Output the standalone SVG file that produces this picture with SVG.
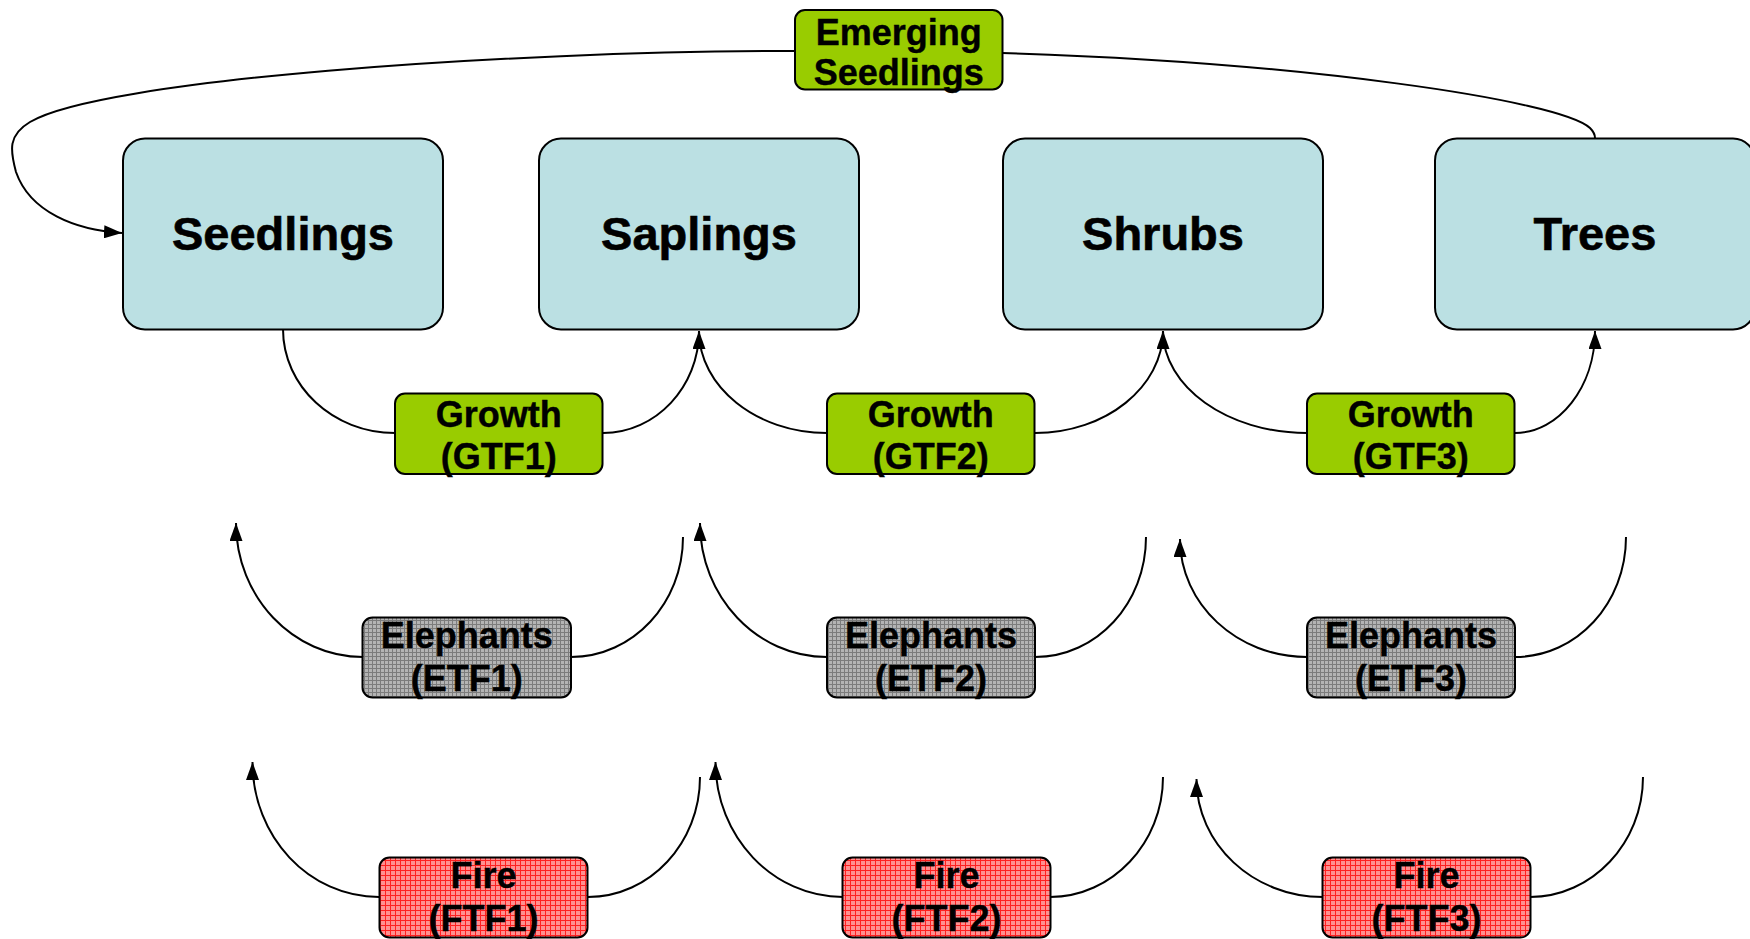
<svg xmlns="http://www.w3.org/2000/svg" width="1750" height="939" viewBox="0 0 1750 939">
<style>
.big{fill:#bbe0e3;stroke:#000;stroke-width:2}
.grn{fill:#99cc00;stroke:#000;stroke-width:2}
.ele{fill:url(#grayGrid);stroke:#000;stroke-width:2}
.fire{fill:url(#redGrid);stroke:#000;stroke-width:2}
.tb{font-family:"Liberation Sans",Arial,sans-serif;font-weight:bold;font-size:47px;text-anchor:middle;fill:#000;stroke:#000;stroke-width:0.6}
.ts{font-family:"Liberation Sans",Arial,sans-serif;font-weight:bold;font-size:36px;text-anchor:middle;fill:#000;stroke:#000;stroke-width:0.4}
.c{fill:none;stroke:#000;stroke-width:2}
.a{marker-end:url(#arr)}
</style>
<defs>
<marker id="arr" viewBox="0 0 18 13" refX="18" refY="6.5" markerWidth="18" markerHeight="13" markerUnits="userSpaceOnUse" orient="auto">
<path d="M0,0 L18,6.5 L0,13 Z" fill="#000"/>
</marker>
<pattern id="grayGrid" width="4" height="4" patternUnits="userSpaceOnUse">
<rect width="4" height="4" fill="#b4b4b4"/>
<path d="M0,0.5 H4 M0.5,0 V4" stroke="#7c7c7c" stroke-width="1"/>
</pattern>
<pattern id="redGrid" width="5" height="5" patternUnits="userSpaceOnUse">
<rect width="5" height="5" fill="#ff9090"/>
<path d="M0,0.5 H5 M0.5,0 V5" stroke="#ff2020" stroke-width="1"/>
</pattern>
</defs>

<g id="connectors">
<path class="c a" d="M795,51 C500,51 100,80 30,122 C8,135 10,150 16,172 C30,212 75,230 122,233"/>
<path class="c" d="M1002,53 C1300,62 1560,100 1590,128 C1594,132 1595,135 1595,138"/>

<path class="c" d="M283,329 C283,386.4 333.2,433 395,433"/>
<path class="c a" d="M603,433 C656,433 699,386.6 699,331"/>
<path class="c" d="M699,331 C699,386.4 756,433 827,433"/>
<path class="c a" d="M1035,433 C1106,433 1163,386.6 1163,331"/>
<path class="c" d="M1163,331 C1163,386.4 1227,433 1307,433"/>
<path class="c a" d="M1515,433 C1559,433 1595,386.6 1595,331"/>

<path class="c a" d="M363,657 C293,657 236,597 236,523"/>
<path class="c" d="M571,657 C633,657 683,603 683,537"/>
<path class="c a" d="M827,657 C757,657 700,597 700,523"/>
<path class="c" d="M1035,657 C1097,657 1146,603 1146,537"/>
<path class="c a" d="M1307,657 C1237,657 1180,604 1180,539"/>
<path class="c" d="M1515,657 C1577,657 1626,603 1626,537"/>

<path class="c a" d="M379,897 C309,897 252.5,837 252.5,762"/>
<path class="c" d="M588,897 C650,897 700,843 700,777"/>
<path class="c a" d="M843,897 C773,897 715.5,837 715.5,762"/>
<path class="c" d="M1050,897 C1112,897 1163,843 1163,777"/>
<path class="c a" d="M1323,897 C1253,897 1196.5,844 1196.5,779"/>
<path class="c" d="M1530,897 C1592,897 1643,843 1643,777"/>
</g>

<g id="seedlings"><rect class="big" x="123" y="138.5" width="320" height="191" rx="22"/><text class="tb" x="283" y="250">Seedlings</text></g>
<g id="saplings"><rect class="big" x="539" y="138.5" width="320" height="191" rx="22"/><text class="tb" x="699" y="250">Saplings</text></g>
<g id="shrubs"><rect class="big" x="1003" y="138.5" width="320" height="191" rx="22"/><text class="tb" x="1163" y="250">Shrubs</text></g>
<g id="trees"><rect class="big" x="1435" y="138.5" width="320" height="191" rx="22"/><text class="tb" x="1595" y="250">Trees</text></g>

<g id="emerging"><rect class="grn" x="795" y="10" width="207.5" height="79.5" rx="10"/><text class="ts" x="898.7" y="45">Emerging</text><text class="ts" x="898.7" y="85">Seedlings</text></g>

<g id="gtf1"><rect class="grn" x="395" y="393.5" width="207.5" height="80.5" rx="10"/><text class="ts" x="498.8" y="427">Growth</text><text class="ts" x="498.8" y="469">(GTF1)</text></g>
<g id="gtf2"><rect class="grn" x="827" y="393.5" width="207.5" height="80.5" rx="10"/><text class="ts" x="930.8" y="427">Growth</text><text class="ts" x="930.8" y="469">(GTF2)</text></g>
<g id="gtf3"><rect class="grn" x="1307" y="393.5" width="207.5" height="80.5" rx="10"/><text class="ts" x="1410.8" y="427">Growth</text><text class="ts" x="1410.8" y="469">(GTF3)</text></g>

<g id="etf1"><rect class="ele" x="362.5" y="617.5" width="208.5" height="80" rx="10"/><text class="ts" x="466.7" y="648">Elephants</text><text class="ts" x="466.7" y="691">(ETF1)</text></g>
<g id="etf2"><rect class="ele" x="827" y="617.5" width="208" height="80" rx="10"/><text class="ts" x="931" y="648">Elephants</text><text class="ts" x="931" y="691">(ETF2)</text></g>
<g id="etf3"><rect class="ele" x="1307" y="617.5" width="208" height="80" rx="10"/><text class="ts" x="1411" y="648">Elephants</text><text class="ts" x="1411" y="691">(ETF3)</text></g>

<g id="ftf1"><rect class="fire" x="379.5" y="857.5" width="208" height="80" rx="10"/><text class="ts" x="483.5" y="888">Fire</text><text class="ts" x="483.5" y="931">(FTF1)</text></g>
<g id="ftf2"><rect class="fire" x="842.5" y="857.5" width="208" height="80" rx="10"/><text class="ts" x="946.5" y="888">Fire</text><text class="ts" x="946.5" y="931">(FTF2)</text></g>
<g id="ftf3"><rect class="fire" x="1322.5" y="857.5" width="208" height="80" rx="10"/><text class="ts" x="1426.5" y="888">Fire</text><text class="ts" x="1426.5" y="931">(FTF3)</text></g>
</svg>
